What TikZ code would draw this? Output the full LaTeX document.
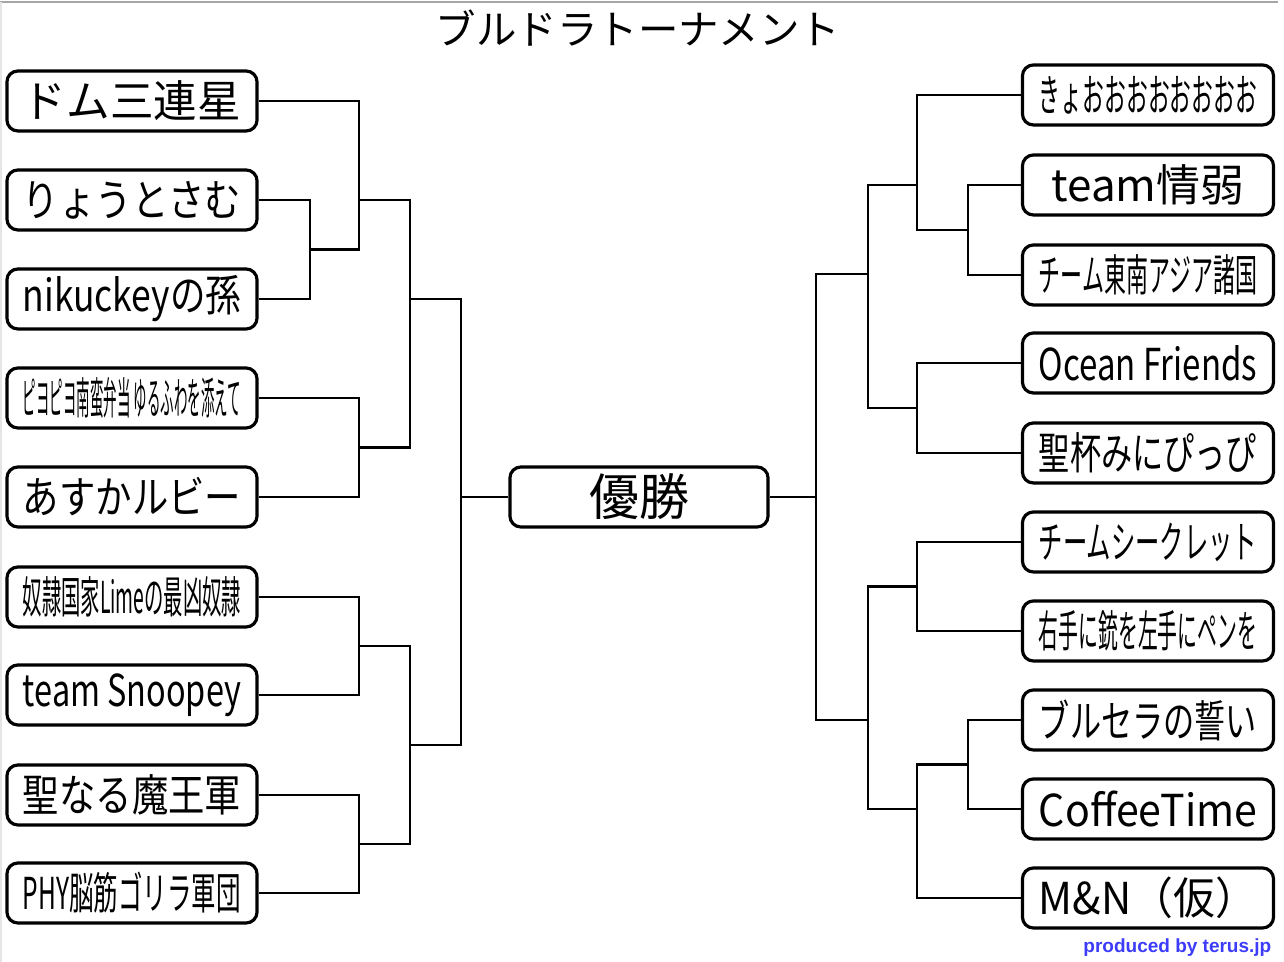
\documentclass[tikz,border=0pt]{standalone}
\usepackage{fontspec}
\usepackage{graphicx}
\setmainfont{Noto Sans CJK JP}
\newfontfamily\creditfont{Liberation Sans}
\definecolor{credit}{RGB}{60,60,250}
\newlength\namewd
\newcommand\fitname[1]{\settowidth\namewd{#1}\ifdim\namewd>2.18cm\resizebox{2.18cm}{\height}{#1}\else#1\fi}

\begin{document}
\begin{tikzpicture}[
		x=0.01cm,
		y=-0.01cm,
		team/.style={
			draw,
			line width=0.9pt,
			rounded corners=0.11cm,
			minimum width=2.5cm,
			minimum height=0.6cm,
			inner sep=0pt,
			font=\fontsize{12.5}{14}\selectfont
		},
		bracket/.style={
			line width=0.75pt
		}
		]
		\useasboundingbox (0,0) rectangle (1284,962);
		\draw[gray!70,line width=0.5pt] (0,2) -- (1278,2);
		\draw[gray!20,line width=0.3pt] (1,2) -- (1,962);
		\node (TITLE) at (638,28) {\fontsize{11.5}{13}\selectfont ブルドラトーナメント};
		
		\node[team] (L1) at (132,101) {\fitname{ドム三連星}};
		\node[team] (L2) at (132,200) {\fitname{りょうとさむ}};
		\node[team] (L3) at (132,299) {\fitname{nikuckeyの孫}};
		\node[team] (L4) at (132,398) {\fitname{ピヨピヨ南蛮弁当 ゆるふわを添えて}};
		\node[team] (L5) at (132,497) {\fitname{あすかルビー}};
		\node[team] (L6) at (132,597) {\fitname{奴隷国家Limeの最凶奴隷}};
		\node[team] (L7) at (132,695) {\fitname{team Snoopey}};
		\node[team] (L8) at (132,795) {\fitname{聖なる魔王軍}};
		\node[team] (L9) at (132,893) {\fitname{PHY脳筋ゴリラ軍団}};
		
		\node[team,minimum width=2.51cm] (R1) at (1148,95) {\fitname{きょおおおおおおおお}};
		\node[team,minimum width=2.51cm] (R2) at (1148,185) {\fitname{team情弱}};
		\node[team,minimum width=2.51cm] (R3) at (1148,275) {\fitname{チーム東南アジア諸国}};
		\node[team,minimum width=2.51cm] (R4) at (1148,363) {\fitname{Ocean Friends}};
		\node[team,minimum width=2.51cm] (R5) at (1148,453) {\fitname{聖杯みにぴっぴ}};
		\node[team,minimum width=2.51cm] (R6) at (1148,542) {\fitname{チームシークレット}};
		\node[team,minimum width=2.51cm] (R7) at (1148,631) {\fitname{右手に銃を左手にペンを}};
		\node[team,minimum width=2.51cm] (R8) at (1148,720) {\fitname{ブルセラの誓い}};
		\node[team,minimum width=2.51cm] (R9) at (1148,809) {\fitname{CoffeeTime}};
		\node[team,minimum width=2.51cm] (R10) at (1148,898) {\fitname{M\&N（仮）}};
		
		\node[team,minimum width=2.58cm,font=\fontsize{14.2}{16}\selectfont] (WIN) at (639,497) {優勝};
		\node[anchor=east,inner sep=0pt,text=credit,font=\creditfont\bfseries\fontsize{5.4}{6.5}\selectfont] (CREDIT) at (1272,948) {produced by terus.jp};
		
		\coordinate (A1) at (310,249.5);
		\coordinate (A2) at (359,200);
		\coordinate (A3) at (359,447.5);
		\coordinate (A4) at (410,299);
		\coordinate (A5) at (359,646);
		\coordinate (A6) at (359,844);
		\coordinate (A7) at (410,745);
		\coordinate (A8) at (461,497);
		
		\coordinate (B1) at (968,230);
		\coordinate (B2) at (917,185);
		\coordinate (B3) at (917,408);
		\coordinate (B4) at (868,274);
		\coordinate (B5) at (917,586.5);
		\coordinate (B6) at (968,764.5);
		\coordinate (B7) at (917,809);
		\coordinate (B8) at (868,720);
		\coordinate (B9) at (816,497);
		
		\draw[bracket] (L2.east) -| (A1) |- (L3.east);
		\draw[bracket] (L1.east) -| (A2) |- (A1);
		\draw[bracket] (L4.east) -| (A3) |- (L5.east);
		\draw[bracket] (A2) -| (A4) |- (A3);
		\draw[bracket] (L6.east) -| (A5) |- (L7.east);
		\draw[bracket] (L8.east) -| (A6) |- (L9.east);
		\draw[bracket] (A5) -| (A7) |- (A6);
		\draw[bracket] (A4) -| (A8) |- (A7);
		\draw[bracket] (A8) -- (WIN.west);
		
		\draw[bracket] (R2.west) -| (B1) |- (R3.west);
		\draw[bracket] (R1.west) -| (B2) |- (B1);
		\draw[bracket] (R4.west) -| (B3) |- (R5.west);
		\draw[bracket] (B2) -| (B4) |- (B3);
		\draw[bracket] (R6.west) -| (B5) |- (R7.west);
		\draw[bracket] (R8.west) -| (B6) |- (R9.west);
		\draw[bracket] (B6) -| (B7) |- (R10.west);
		\draw[bracket] (B5) -| (B8) |- (B7);
		\draw[bracket] (B4) -| (B9) |- (B8);
		\draw[bracket] (B9) -- (WIN.east);
		\end{tikzpicture}
\end{document}
